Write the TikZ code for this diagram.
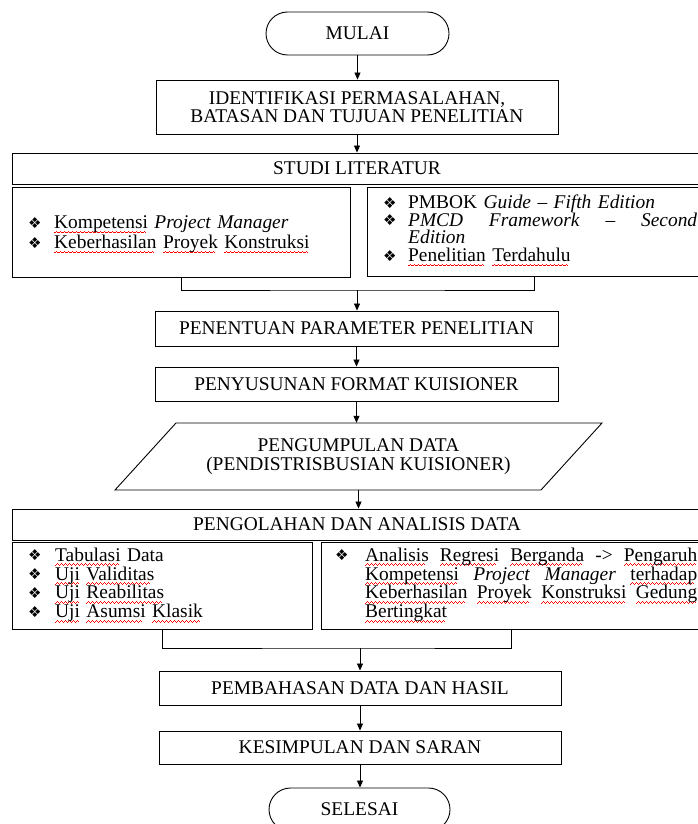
\documentclass[tikz,border=0pt]{standalone}
\usepackage{fontspec}
\setmainfont{Liberation Serif}
\newfontfamily\dejavu{DejaVu Sans}
\usetikzlibrary{arrows.meta}
\newsavebox\sqbox
\newcommand\waveunit{\hbox{\rule[0pt]{1pt}{0.7pt}\rule[0.7pt]{1pt}{0.7pt}\rule[1.4pt]{1pt}{0.7pt}\rule[0.7pt]{1pt}{0.7pt}}}
\newcommand\sq[1]{\sbox\sqbox{#1}\rlap{\lower4.5pt\hbox to\wd\sqbox{\color{red}\leaders\waveunit\hfill}}\usebox\sqbox}
\newcommand\bul[1]{\makebox[#1][l]{\raisebox{0.5pt}{\dejavu\fontsize{15}{15}\selectfont ❖}}}
\tikzset{
  box/.style={draw, line width=0.9pt, inner sep=0pt, align=center,
    font=\fontsize{19.4}{18}\selectfont},
  pill/.style={box, rounded corners=21.5pt},
  listtxt/.style={inner sep=0pt, align=left, anchor=west,
    font=\fontsize{19.4}{17.7}\selectfont,
    execute at begin node={\setlength{\parindent}{0pt}}},
  conn/.style={line width=0.8pt},
  arr/.style={conn, -{Triangle[length=7pt,width=6pt]}}
}
\begin{document}
\begin{tikzpicture}[x=1pt,y=-1pt]
\useasboundingbox (0,0) rectangle (697,824);

% nodes
\node[pill, minimum width=183pt, minimum height=43pt] (mulai) at (357.5,33.5) {MULAI};
\node[box, minimum width=402pt, minimum height=54pt] (ident) at (357,107)
  {IDENTIFIKASI PERMASALAHAN,\\BATASAN DAN TUJUAN PENELITIAN};
\node[box, minimum width=690pt, minimum height=31pt] (studi) at (357,168.5) {STUDI LITERATUR};
\node[box, minimum width=338pt, minimum height=90pt] (sl) at (181,232) {};
\node[box, minimum width=335pt, minimum height=89pt] (sr) at (534.5,231.5) {};
\node[listtxt, text width=310pt, font=\fontsize{19.4}{20}\selectfont] (slt) at (28,234.5)
  {\bul{26pt}\sq{Kompetensi} \textit{Project Manager}\\
   \bul{26pt}\sq{Keberhasilan} \sq{Proyek} \sq{Konstruksi}};
\node[listtxt, text width=314pt] (srt) at (383,230.5)
  {\bul{25pt}PMBOK \textit{Guide – Fifth Edition}\\
   \bul{25pt}\textit{PMCD}\hfill\textit{Framework}\hfill–\hfill\textit{Second}\\
   \hspace*{25pt}\textit{Edition}\\
   \bul{25pt}\sq{Penelitian} \sq{Terdahulu}};
\coordinate (join1) at (357,290);
\node[box, minimum width=403pt, minimum height=35pt] (penentuan) at (356.5,328.5) {PENENTUAN PARAMETER PENELITIAN};
\node[box, minimum width=403pt, minimum height=34pt] (penyusunan) at (356.5,384) {PENYUSUNAN FORMAT KUISIONER};
\draw[line width=0.9pt] (176,423) -- (602,423) -- (541,490) -- (115,490) -- cycle;
\node[inner sep=0pt, minimum height=67pt, align=center, font=\fontsize{19.4}{19}\selectfont] (data) at (358.5,456.5)
  {PENGUMPULAN DATA\\(PENDISTRISBUSIAN KUISIONER)};
\node[box, minimum width=690pt, minimum height=31pt] (pengolahan) at (357,524.5) {PENGOLAHAN DAN ANALISIS DATA};
\node[box, minimum width=300pt, minimum height=87pt] (pl) at (162,585.5) {};
\node[box, minimum width=381pt, minimum height=87pt] (pr) at (511.5,585.5) {};
\node[listtxt, text width=280pt] (plt) at (28,585)
  {\bul{27pt}\sq{Tabulasi} Data\\
   \bul{27pt}\sq{Uji} \sq{Validitas}\\
   \bul{27pt}\sq{Uji} \sq{Reabilitas}\\
   \bul{27pt}\sq{Uji} \sq{Asumsi} \sq{Klasik}};
\node[listtxt, text width=362pt] (prt) at (335,585)
  {\bul{30pt}\sq{Analisis}\hfill\sq{Regresi}\hfill\sq{Berganda}\hfill->\hfill\sq{Pengaruh}\\
   \hspace*{30pt}\sq{Kompetensi}\hfill\textit{Project}\hfill\textit{Manager}\hfill\sq{terhadap}\\
   \hspace*{30pt}\sq{Keberhasilan}\hfill\sq{Proyek}\hfill\sq{Konstruksi}\hfill\sq{Gedung}\\
   \hspace*{30pt}\sq{Bertingkat}};
\coordinate (join2) at (360,648);
\node[box, minimum width=402pt, minimum height=34pt] (pembahasan) at (360,688) {PEMBAHASAN DATA DAN HASIL};
\node[box, minimum width=402pt, minimum height=33pt] (kesimpulan) at (360,747.5) {KESIMPULAN DAN SARAN};
\node[pill, minimum width=181pt, minimum height=43pt] (selesai) at (359.5,809.5) {SELESAI};

% connectors
\draw[arr] (mulai.south) -- (mulai.south |- ident.north);
\draw[arr] (ident.south) -- (ident.south |- studi.north);
\draw[conn] (sl.south) |- (join1) -| (sr.south);
\draw[arr] (join1) -- (join1 |- penentuan.north);
\draw[arr] (penentuan.south) -- (penentuan.south |- penyusunan.north);
\draw[arr] (penyusunan.south) -- (penyusunan.south |- data.north);
\draw[arr] (data.south) -- (data.south |- pengolahan.north);
\draw[conn] (pl.south) |- (join2) -| (pr.south);
\draw[arr] (join2) -- (join2 |- pembahasan.north);
\draw[arr] (pembahasan.south) -- (pembahasan.south |- kesimpulan.north);
\draw[arr] (kesimpulan.south) -- (kesimpulan.south |- selesai.north);
\end{tikzpicture}
\end{document}
